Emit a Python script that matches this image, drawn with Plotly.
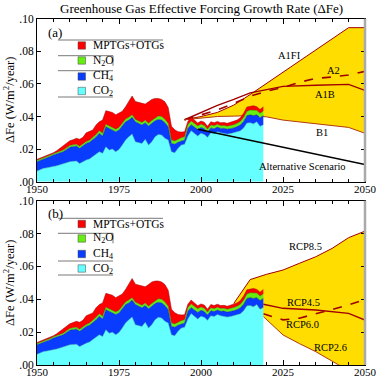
import plotly.graph_objects as go

# ---------------- data ----------------
years = list(range(1950, 2020))
co2 = [.0065, .0075, .0082, .0085, .0088, .0092, .0098, .0104, .0110, .0118,
       .0123, .0125, .0127, .0112, .0125, .0133, .0140, .0153, .0168, .0184,
       .0174, .0215, .0194, .0200, .0184, .0198, .0225, .0256, .0276, .0292,
       .0245, .0239, .0235, .0260, .0225, .0245, .0276, .0290, .0286, .0266,
       .0256, .0184, .0178, .0205, .0225, .0230, .0280, .0313, .0297, .0280,
       .0297, .0290, .0272, .0300, .0295, .0307, .0300, .0298, .0292, .0295,
       .0300, .0305, .0312, .0330, .0360, .0362, .0355, .0368, .0340, .0350]
ch4 = [.0058, .0055, .0056, .0061, .0066, .0072, .0072, .0072, .0074, .0080,
       .0088, .0090, .0092, .0093, .0097, .0102, .0102, .0103, .0107, .0113,
       .0106, .0122, .0133, .0120, .0123, .0119, .0117, .0112, .0102, .0103,
       .0123, .0119, .0113, .0102, .0117, .0113, .0098, .0092, .0092, .0096,
       .0081, .0051, .0052, .0037, .0026, .0026, .0047, .0037, .0038, .0040,
       .0036, .0035, .0033, .0030, .0030, .0028, .0027, .0030, .0030, .0030,
       .0030, .0033, .0036, .0040, .0045, .0048, .0050, .0042, .0052, .0055]
n2o = [.0008, .0008, .0008, .0008, .0008, .0008, .0010, .0010, .0010, .0010,
       .0011, .0011, .0011, .0012, .0012, .0012, .0013, .0014, .0015, .0015,
       .0017, .0015, .0016, .0016, .0015, .0016, .0016, .0016, .0017, .0015,
       .0014, .0015, .0015, .0015, .0016, .0017, .0016, .0021, .0022, .0021,
       .0021, .0021, .0020, .0020, .0019, .0020, .0023, .0022, .0022, .0022,
       .0020, .0020, .0017, .0018, .0018, .0017, .0017, .0017, .0018, .0019,
       .0020, .0020, .0022, .0025, .0027, .0030, .0033, .0028, .0028, .0029]
mptg = [.0006, .0007, .0007, .0006, .0006, .0006, .0010, .0019, .0025, .0030,
        .0029, .0032, .0036, .0043, .0038, .0053, .0055, .0047, .0058, .0056,
        .0081, .0084, .0087, .0089, .0088, .0087, .0074, .0076, .0096, .0116,
        .0110, .0115, .0117, .0099, .0132, .0130, .0121, .0108, .0105, .0107,
        .0097, .0084, .0068, .0045, .0035, .0030, .0020, .0023, .0021, .0018,
        .0019, .0020, .0018, .0020, .0019, .0018, .0018, .0018, .0018, .0020,
        .0020, .0020, .0022, .0025, .0026, .0022, .0028, .0022, .0023, .0026]

# SRES scenarios (panel a)
a1fi_yr = [1995, 2000, 2005, 2010, 2015, 2045, 2050]
a1fi = [.0380, .0400, .0425, .0470, .0535, .0945, .0945]
a2_yr = [1995, 2000, 2005, 2010, 2015, 2020, 2025, 2030, 2035, 2040, 2045, 2050]
a2 = [.0380, .0410, .0440, .0480, .0525, .0555, .0578, .0610, .0634, .0642, .0655, .0677]
a1b_yr = [1995, 2000, 2005, 2010, 2015, 2020, 2025, 2035, 2045, 2050]
a1b = [.0380, .0425, .0468, .0505, .0545, .0565, .0585, .0592, .0597, .0560]
b1_yr = [1995, 2005, 2015, 2020, 2025, 2035, 2045, 2050]
b1 = [.0380, .0400, .0405, .0398, .0378, .0355, .0333, .0297]
alt_yr = [1999, 2050]
alt = [.0322, .0105]

# RCP scenarios (panel b)
rcp85_yr = [2010, 2015, 2020, 2025, 2030, 2035, 2040, 2045, 2050]
rcp85 = [.0375, .0520, .0552, .0578, .0619, .0659, .0710, .0775, .0815]
rcp26_yr = [2010, 2019, 2025, 2030, 2035, 2042, 2050]
rcp26 = [.0370, .0295, .0183, .0130, .0081, .0000, -.0060]
rcp45_yr = [2019, 2025, 2035, 2045, 2050]
rcp45 = [.0370, .0345, .0335, .0314, .0274]
rcp60_yr = [2019, 2025, 2030, 2035, 2040, 2045, 2050]
rcp60 = [.0312, .0275, .0285, .0312, .0335, .0365, .0400]

ytick_vals = [0, .02, .04, .06, .08, .10]
ytick_text = ['.00', '.02', '.04', '.06', '.08', '.10']
xtick_vals = [1950, 1975, 2000, 2025, 2050]

comp_names = ['CO<sub>2</sub>', 'CH<sub>4</sub>', 'N<sub>2</sub>O', 'MPTGs+OTGs']
comp_colors = ['#66FFFF', '#0A3CFF', '#66EE11', '#FF0000']
comp_edges = ['#33AAAA', '#001E99', '#2E7A00', '#990000']

# ---------------- figure ----------------
W, H = 377, 377
ML, MR, MT, MB = 37, 12, 18, 12
PW, PH = W - ML - MR, H - MT - MB

def px(x):
    return (x - ML) / PW

def py(y):
    return (H - MB - y) / PH

FONT = "Liberation Serif, Times New Roman, serif"
YELLOW = '#FFDD00'
DRED = '#A00000'

fig = go.Figure()

def add_band(xa, ya, xb, yb, row):
    fig.add_trace(go.Scatter(
        x=list(xa) + list(xb)[::-1], y=list(ya) + list(yb)[::-1],
        fill='toself', fillcolor=YELLOW, mode='lines', line=dict(width=0),
        hoverinfo='skip', showlegend=False,
        xaxis='x' if row == 1 else 'x2', yaxis='y' if row == 1 else 'y2'))

def add_line(xs, ys, row, dash='solid', color=DRED, width=1.2):
    fig.add_trace(go.Scatter(
        x=xs, y=ys, mode='lines', line=dict(color=color, width=width, dash=dash),
        showlegend=False, hoverinfo='skip',
        xaxis='x' if row == 1 else 'x2', yaxis='y' if row == 1 else 'y2'))

# panel a scenarios
add_band(a1fi_yr, a1fi, b1_yr, b1, 1)
add_line(a1fi_yr, a1fi, 1, width=1.0)
add_line(a2_yr, a2, 1, dash='dash', width=1.6)
add_line(a1b_yr, a1b, 1, width=1.4)
add_line(b1_yr, b1, 1, width=1.0, color='#B03A10')

# panel b scenarios
add_band(rcp85_yr, rcp85, rcp26_yr, rcp26, 2)
add_line(rcp85_yr, rcp85, 2, width=1.0)
add_line(rcp26_yr[1:], rcp26[1:], 2, width=1.0, color='#B03A10')
add_line(rcp45_yr, rcp45, 2, width=1.4)
add_line(rcp60_yr, rcp60, 2, dash='dash', width=1.6)

# stacked historical components
for row in (1, 2):
    for name, vals, col, edge in zip(comp_names, [co2, ch4, n2o, mptg], comp_colors, comp_edges):
        fig.add_trace(go.Scatter(
            x=years, y=vals, stackgroup='s%d' % row, mode='lines',
            line=dict(width=0.5, color=edge), fillcolor=col, name=name,
            showlegend=False, hoverinfo='skip',
            xaxis='x' if row == 1 else 'x2', yaxis='y' if row == 1 else 'y2'))

add_line(alt_yr, alt, 1, color='black', width=1.5)

axis_common = dict(showline=True, linecolor='black', linewidth=1, mirror='allticks',
                   ticks='inside', tickcolor='black', showgrid=False, zeroline=False,
                   automargin=False,
                   tickfont=dict(family=FONT, size=11, color='black'))
xa = dict(axis_common, range=[1950, 2050], tickvals=xtick_vals, ticklen=5, ticklabelstandoff=-3,
          minor=dict(dtick=5, tick0=1950, ticks='inside', ticklen=3, tickcolor='black'))
ya = dict(axis_common, range=[0, 0.1], tickvals=ytick_vals, ticktext=ytick_text, ticklen=4,
          tickfont=dict(family=FONT, size=11.5, color='black'))

fig.update_layout(
    width=W, height=H, margin=dict(l=ML, r=MR, t=MT, b=MB, autoexpand=False),
    paper_bgcolor='white', plot_bgcolor='white', showlegend=False,
    xaxis=dict(xa, domain=[0, 1], anchor='y'),
    yaxis=dict(ya, domain=[py(181.7), py(18.7)], anchor='x'),
    xaxis2=dict(xa, domain=[0, 1], anchor='y2'),
    yaxis2=dict(ya, domain=[0, py(200.7)], anchor='x2'),
)

shapes = []
ann = []

# title
ann.append(dict(text='Greenhouse Gas Effective Forcing Growth Rate (ΔFe)', x=0.5, y=py(9),
                xref='paper', yref='paper', showarrow=False, xanchor='center', yanchor='middle',
                font=dict(family=FONT, size=13, color='black')))

# y titles and panel labels
for yc, lab, ly in ((100, '(a)', 32.3), (283, '(b)', 213)):
    ann.append(dict(text='ΔFe (W/m<sup>2</sup>/year)', x=px(9), y=py(yc), xref='paper', yref='paper',
                    showarrow=False, textangle=-90, xanchor='center', yanchor='middle',
                    font=dict(family=FONT, size=12.5, color='black')))
    ann.append(dict(text=lab, x=px(46), y=py(ly), xref='paper', yref='paper', showarrow=False,
                    xanchor='left', yanchor='middle', font=dict(family=FONT, size=13, color='black')))

# right border grey
for dom in ((py(181.7), py(18.7)), (0, py(200.7))):
    shapes.append(dict(type='line', xref='paper', yref='paper', x0=1, x1=1, y0=dom[0], y1=dom[1],
                       line=dict(color='#AAAAAA', width=2.5), layer='above'))

# custom legends
leg_names = ['MPTGs+OTGs', 'N<sub>2</sub>O', 'CH<sub>4</sub>', 'CO<sub>2</sub>']
leg_cols = ['#FF0000', '#66EE11', '#0A3CFF', '#66FFFF']
legend_rows = {1: [45.5, 60.5, 76.5, 91], 2: [224, 238.5, 254, 268.5]}
legend_lines = {1: [(40, 163), (55.7, 113), (70.7, 113), (97, 113)],
                2: [(218.3, 163), (233.3, 113), (261, 113), (275, 113)]}
for row in (1, 2):
    for yc, name, col in zip(legend_rows[row], leg_names, leg_cols):
        shapes.append(dict(type='rect', xref='paper', yref='paper', x0=px(78), x1=px(85.5),
                           y0=py(yc - 3.7), y1=py(yc + 3.7), fillcolor=col,
                           line=dict(color='#444444', width=0.5), layer='above'))
        ann.append(dict(text=name, x=px(91), y=py(yc), xref='paper', yref='paper', showarrow=False,
                        xanchor='left', yanchor='middle', font=dict(family=FONT, size=11.5, color='black')))
    for yl, xr in legend_lines[row]:
        shapes.append(dict(type='line', xref='paper', yref='paper', x0=px(58), x1=px(xr),
                           y0=py(yl), y1=py(yl), line=dict(color='#555555', width=0.8), layer='above'))
    y0 = legend_lines[row][1][0]
    shapes.append(dict(type='line', xref='paper', yref='paper', x0=px(113), x1=px(113),
                       y0=py(y0), y1=py(y0 + 10), line=dict(color='#555555', width=0.8), layer='above'))

# scenario labels
lab_font = dict(family=FONT, size=10.5, color='black')
scen_labels_a = [('A1FI', 2027, .0774), ('A2', 2040.3, .068), ('A1B', 2037.8, .0538),
                 ('B1', 2036.9, .030), ('Alternative Scenario', 2030.8, .0096)]
scen_labels_b = [('RCP8.5', 2031.8, .072), ('RCP4.5', 2031.1, .0381),
                 ('RCP6.0', 2030.8, .0247), ('RCP2.6', 2039.4, .0108)]
for t, x, y in scen_labels_a:
    ann.append(dict(text=t, x=x, y=y, xref='x', yref='y', showarrow=False, font=lab_font))
for t, x, y in scen_labels_b:
    ann.append(dict(text=t, x=x, y=y, xref='x2', yref='y2', showarrow=False, font=lab_font))

fig.update_layout(shapes=shapes, annotations=ann)
fig.write_html("out.html", config={'displayModeBar': False},
               post_script="document.body.style.margin='0';document.body.style.overflow='hidden';")
